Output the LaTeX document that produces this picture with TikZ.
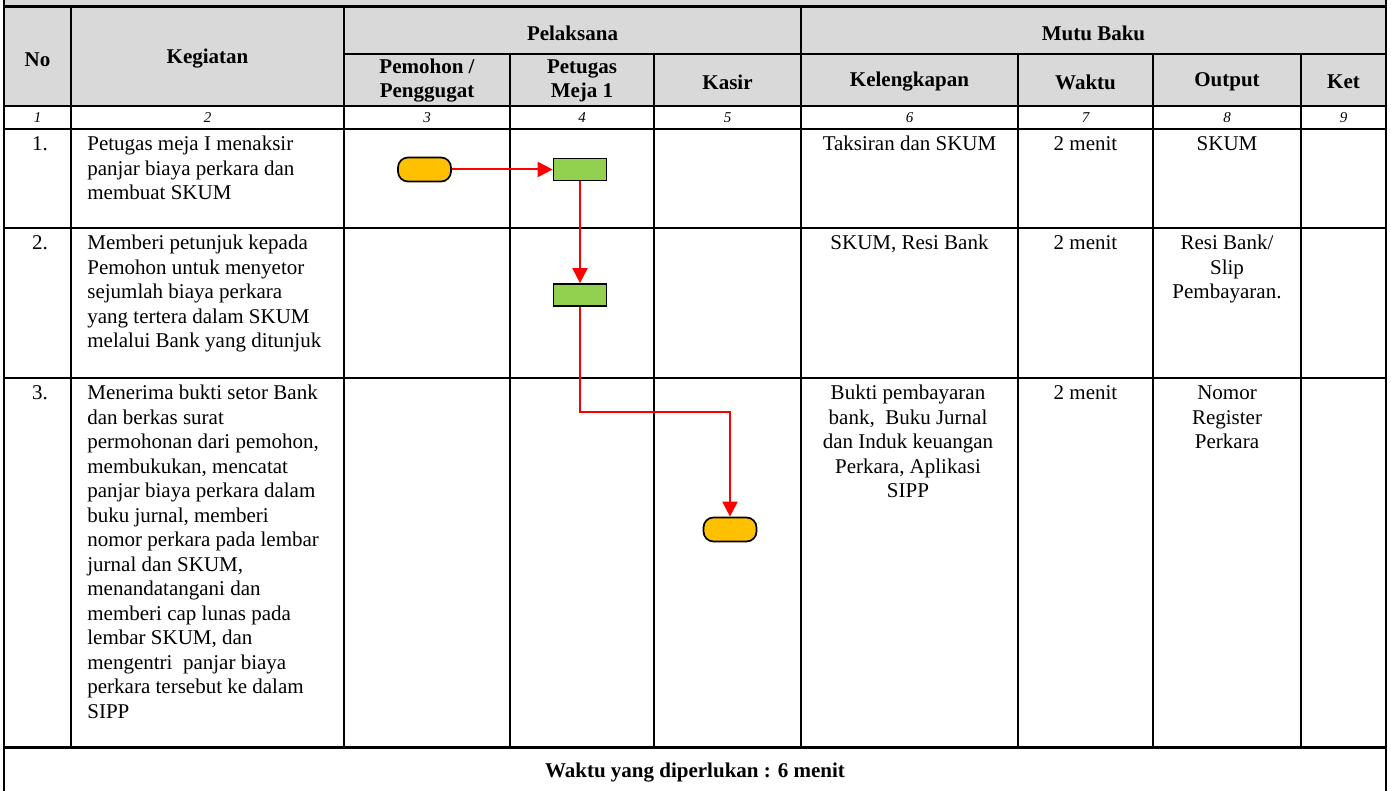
\documentclass[tikz,border=0pt]{standalone}
\usepackage{fontspec}
\setmainfont{Liberation Serif}
\usetikzlibrary{arrows.meta}
\definecolor{hdrgray}{HTML}{D9D9D9}
\definecolor{pillc}{HTML}{FFC000}
\definecolor{boxc}{HTML}{92D050}
\definecolor{flowred}{HTML}{FF0000}
\begin{document}
\begin{tikzpicture}[x=0.5pt,y=-0.5pt,
  gridline/.style={line width=0.75pt},
  heavy/.style={line width=1.5pt},
  txt/.style={inner sep=0pt, font=\fontsize{10.5}{12.25}\selectfont},
  hdr/.style={inner sep=0pt, align=center, font=\fontsize{10.5}{12}\selectfont\bfseries},
  num/.style={inner sep=0pt, font=\fontsize{7.5}{9}\selectfont\itshape},
  lcell/.style={txt, anchor=north west, align=left},
  ccell/.style={txt, anchor=north, align=center},
  pill/.style={draw, line width=0.85pt, fill=pillc, rounded corners=5pt, minimum width=26.5pt, minimum height=12pt, inner sep=0pt},
  actbox/.style={draw, line width=0.85pt, fill=boxc, minimum width=26.5pt, minimum height=11pt, inner sep=0pt},
  flow/.style={draw=flowred, line width=1pt, -{Triangle[length=7.5pt,width=7.5pt]}}
]
\useasboundingbox (0,0) rectangle (1391,791);
\fill[hdrgray] (4,0) rectangle (1386,106);
% horizontal rules
\draw[heavy] (4,7) -- (1386,7);
\draw[gridline] (344,54) -- (1386,54);
\draw[gridline] (4,106) -- (1386,106);
\draw[gridline] (4,129) -- (1386,129);
\draw[gridline] (4,228) -- (1386,228);
\draw[gridline] (4,378) -- (1386,378);
\draw[heavy] (4,747) -- (1386,747);
% vertical rules
\draw[gridline] (4,0) -- (4,791);
\draw[gridline] (1386,0) -- (1386,791);
\foreach \x in {71,344,801} \draw[gridline] (\x,7) -- (\x,747);
\foreach \x in {510,654,1018,1153,1301} \draw[gridline] (\x,54) -- (\x,747);
% header
\node[hdr] (hno) at (37.5,60) {No};
\node[hdr] (hkeg) at (207.5,59) {Kegiatan};
\node[hdr] (hpel) at (572.5,33) {Pelaksana};
\node[hdr] (hmutu) at (1093.5,33) {Mutu Baku};
\node[hdr] (hpem) at (427,81) {Pemohon /\\Penggugat};
\node[hdr] (hpet) at (582,81) {Petugas\\Meja 1};
\node[hdr] (hkas) at (727.5,82) {Kasir};
\node[hdr] (hkel) at (909.5,82) {Kelengkapan};
\node[hdr] (hwak) at (1085.5,82) {Waktu};
\node[hdr] (hout) at (1227,82) {Output};
\node[hdr] (hket) at (1343.5,82) {Ket};
% column numbers
\node[num] (n1) at (37.5,118) {1};
\node[num] (n2) at (207.5,118) {2};
\node[num] (n3) at (427,118) {3};
\node[num] (n4) at (582,118) {4};
\node[num] (n5) at (727.5,118) {5};
\node[num] (n6) at (909.5,118) {6};
\node[num] (n7) at (1085.5,118) {7};
\node[num] (n8) at (1227,118) {8};
\node[num] (n9) at (1343.5,118) {9};
% row 1
\node[ccell] (r1no) at (40,133) {\strut 1.};
\node[lcell] (r1keg) at (87,133) {\strut Petugas meja I menaksir\\panjar biaya perkara dan\\membuat SKUM};
\node[ccell] (r1kel) at (909.5,133) {\strut Taksiran dan SKUM};
\node[ccell] (r1wak) at (1085.5,133) {\strut 2 menit};
\node[ccell] (r1out) at (1227,133) {\strut SKUM};
% row 2
\node[ccell] (r2no) at (40,232) {\strut 2.};
\node[lcell] (r2keg) at (87,232) {\strut Memberi petunjuk kepada\\Pemohon untuk menyetor\\sejumlah biaya perkara\\yang tertera dalam SKUM\\melalui Bank yang ditunjuk};
\node[ccell] (r2kel) at (909.5,232) {\strut SKUM, Resi Bank};
\node[ccell] (r2wak) at (1085.5,232) {\strut 2 menit};
\node[ccell] (r2out) at (1227,232) {\strut Resi Bank/\\Slip\\Pembayaran.};
% row 3
\node[ccell] (r3no) at (40,382) {\strut 3.};
\node[lcell] (r3keg) at (87,382) {\strut Menerima bukti setor Bank\\dan berkas surat\\permohonan dari pemohon,\\membukukan, mencatat\\panjar biaya perkara dalam\\buku jurnal, memberi\\nomor perkara pada lembar\\jurnal dan SKUM,\\menandatangani dan\\memberi cap lunas pada\\lembar SKUM, dan\\mengentri\ \ panjar biaya\\perkara tersebut ke dalam\\SIPP};
\node[ccell] (r3kel) at (908,382) {\strut Bukti pembayaran\\bank,\ \ Buku Jurnal\\dan Induk keuangan\\Perkara, Aplikasi\\SIPP};
\node[ccell] (r3wak) at (1085.5,382) {\strut 2 menit};
\node[ccell] (r3out) at (1227,382) {\strut Nomor\\Register\\Perkara};
% footer
\node[hdr] (foot) at (695,773) {Waktu yang diperlukan : 6 menit};
% flow
\node[pill] (p1) at (424.5,169.5) {};
\node[actbox] (b1) at (580,169.5) {};
\node[actbox] (b2) at (580,295) {};
\node[pill] (p2) at (730,529.5) {};
\coordinate (bend) at (580,412);
\draw[flow] (p1.east) -- (b1.west);
\draw[flow] (b1.south) -- (b2.north);
\draw[flow] (b2.south) -- (bend) -| (p2.north);
\end{tikzpicture}
\end{document}
